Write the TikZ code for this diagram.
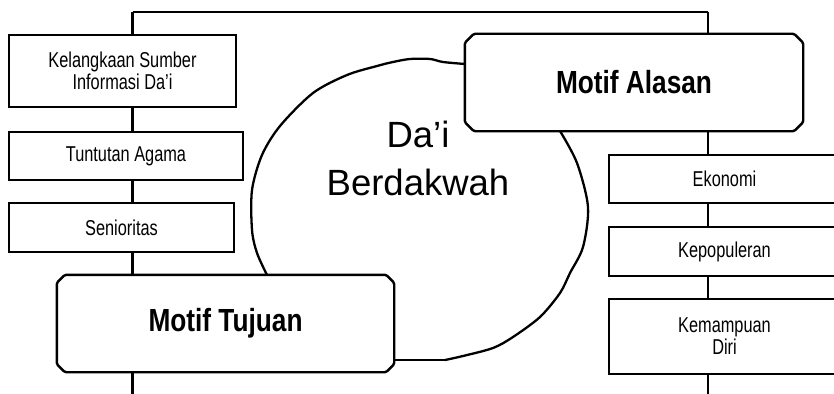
\documentclass[tikz,border=0pt]{standalone}
\usepackage{fontspec}
\setmainfont{Liberation Sans}
\newfontfamily\condf[FakeStretch=0.76]{Liberation Sans}
\newfontfamily\condbf[FakeStretch=0.82]{Liberation Sans}
\newcommand\chamferbox[2]{%
  \draw[boxline,rounded corners=1.5pt]
    ([xshift=#2]#1.north west) -- ([xshift=-#2]#1.north east) --
    ([yshift=-#2]#1.north east) -- ([yshift=#2]#1.south east) --
    ([xshift=-#2]#1.south east) -- ([xshift=#2]#1.south west) --
    ([yshift=#2]#1.south west) -- ([yshift=-#2]#1.north west) -- cycle;}
\begin{document}
\begin{tikzpicture}[x=1pt,y=-1pt,
  boxline/.style={draw=black,line width=2.4pt},
  thickline/.style={draw=black,line width=2.6pt},
  thinline/.style={draw=black,line width=1.2pt},
  smallbox/.style={boxline,fill=white,inner sep=0pt,align=center,
    font=\condf\fontsize{21.5}{22}\selectfont},
  motifbox/.style={fill=white,inner sep=0pt,
    font=\condbf\bfseries\fontsize{32}{36}\selectfont},
  blobline/.style={draw=black,line width=2.3pt,line join=round}]
\useasboundingbox (0,0) rectangle (834,393);
\clip (0,0) rectangle (834,393);
\fill[white] (0,0) rectangle (834,393);

% spine coordinates
\coordinate (tl) at (132.5,12);
\coordinate (tr) at (708,12);
\coordinate (lb) at (132.5,395);
\coordinate (rb) at (708,395);

% blob end points
\coordinate (ba) at (465,64);
\coordinate (bb) at (267,275);
\coordinate (bc) at (560,131);
\coordinate (bd) at (445,360);
\coordinate (be) at (394,360);

% central blob
\draw[blobline] plot[smooth,tension=0.5] coordinates {(ba) (443,62) (430,59) (410,59) (393,62) (377,66) (347,75) (313,93) (280,126) (262,155) (252,190) (252,230) (257,253) (bb)};
\draw[blobline] plot[smooth,tension=0.5] coordinates {(bc) (577,163) (588,207) (583,247) (570,273) (560,293) (540,317) (513,337) (493,348) (463,356) (bd)};
\draw[boxline] (bd) -- (be);

\node[font=\fontsize{36.5}{48}\selectfont,align=center] (dai) at (418,158.5) {Da’i\\Berdakwah};

% top line
\draw[thinline] (tl) -- (tr);

% left column
\node[smallbox,minimum width=227pt,minimum height=72pt] (kel) at (122.5,71) {Kelangkaan Sumber\\Informasi Da’i};
\node[smallbox,minimum width=234pt,minimum height=48pt] (tun) at (126,156) {Tuntutan Agama};
\node[smallbox,minimum width=225pt,minimum height=49pt] (sen) at (121.5,227.5) {Senioritas};
\node[motifbox,minimum width=337pt,minimum height=97pt] (tuj) at (225.5,323.5) {Motif Tujuan};
\chamferbox{tuj}{8pt}

\draw[thickline] (tl) -- (tl |- kel.north);
\draw[thickline] (kel.south -| tl) -- (tun.north -| tl);
\draw[thickline] (tun.south -| tl) -- (sen.north -| tl);
\draw[thickline] (sen.south -| tl) -- (tuj.north -| tl);
\draw[thickline] (tuj.south -| tl) -- (lb);

% right column
\node[motifbox,minimum width=338pt,minimum height=97pt] (ala) at (634,82.5) {Motif Alasan};
\chamferbox{ala}{9pt}
\node[smallbox,minimum width=231pt,minimum height=48pt] (eko) at (724.5,179) {Ekonomi};
\node[smallbox,minimum width=231pt,minimum height=49pt] (kep) at (724.5,251.5) {Kepopuleran};
\node[smallbox,minimum width=231pt,minimum height=75pt] (kem) at (724.5,336.5) {Kemampuan\\Diri};

\draw[thinline] (tr) -- (tr |- ala.north);
\draw[thinline] (ala.south -| tr) -- (eko.north -| tr);
\draw[thinline] (eko.south -| tr) -- (kep.north -| tr);
\draw[thinline] (kep.south -| tr) -- (kem.north -| tr);
\draw[thinline] (kem.south -| tr) -- (rb);
\end{tikzpicture}
\end{document}
